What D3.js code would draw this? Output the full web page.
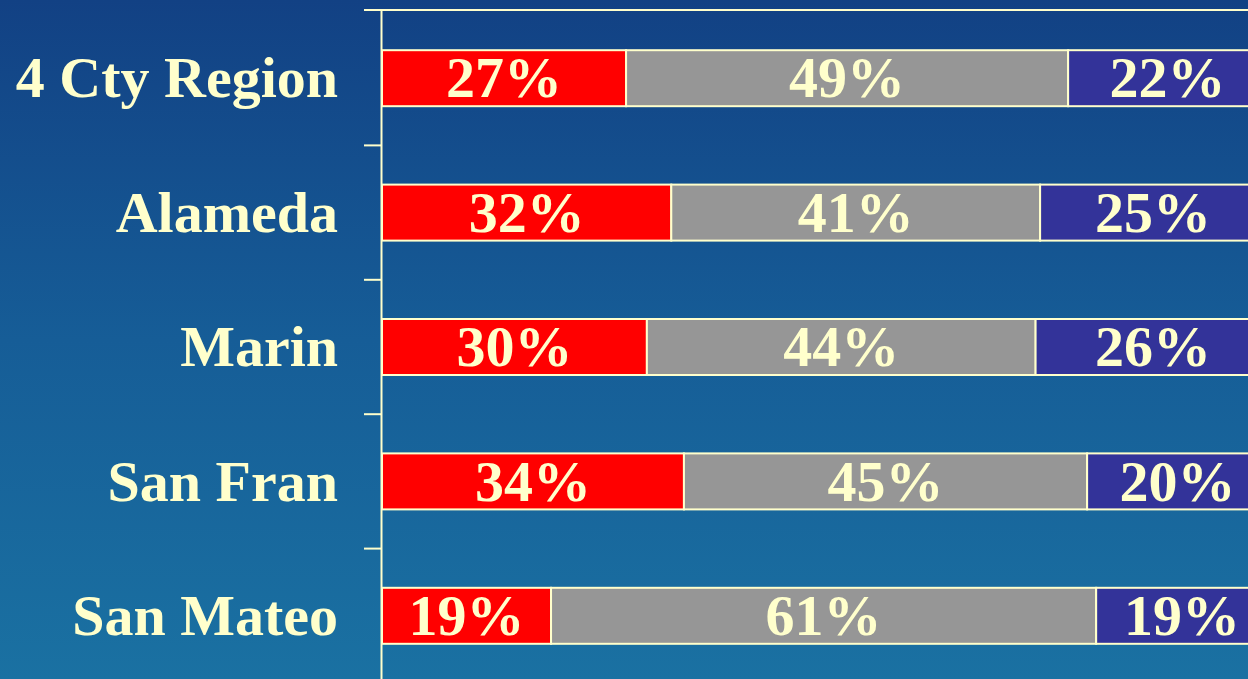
<!DOCTYPE html>
<html>
<head>
<meta charset="utf-8">
<script src="https://cdn.jsdelivr.net/npm/d3@7.9.0/dist/d3.min.js"></script>
<style>
  html, body { margin: 0; padding: 0; overflow: hidden; background: #13427f; }
  svg { display: block; }
</style>
</head>
<body>
<svg id="chart" width="1248" height="679"></svg>
<script>
const regions = ["4 Cty Region", "Alameda", "Marin", "San Fran", "San Mateo"];
const redShare = [27.0, 32.0, 29.3, 33.4, 18.7];
const grayShare = [48.9, 40.8, 43.0, 44.6, 60.3];
const blueShare = [22, 25, 26, 20, 19];
const redLabels = ["27%", "32%", "30%", "34%", "19%"];
const grayLabels = ["49%", "41%", "44%", "45%", "61%"];
const blueLabels = ["22%", "25%", "26%", "20%", "19%"];

const seriesColors = ["#ff0000", "#969696", "#333399"];
const cream = "#ffffcc";

const width = 1248, height = 679;
const svg = d3.select("#chart");

// background gradient
const defs = svg.append("defs");
const grad = defs.append("linearGradient")
  .attr("id", "bg").attr("x1", 0).attr("y1", 0).attr("x2", 0).attr("y2", 1);
grad.append("stop").attr("offset", "0%").attr("stop-color", "#124184");
grad.append("stop").attr("offset", "50%").attr("stop-color", "#165d97");
grad.append("stop").attr("offset", "100%").attr("stop-color", "#1a71a2");
svg.append("rect").attr("width", width).attr("height", height).attr("fill", "url(#bg)");

const x = d3.scaleLinear().domain([0, 100]).range([382, 1286]);
const y = d3.scaleBand().domain(regions).range([11, 683]).padding(0);
const barH = 56;

const rows = regions.map((r, i) => {
  const vals = [redShare[i], grayShare[i], blueShare[i]];
  const labs = [redLabels[i], grayLabels[i], blueLabels[i]];
  let acc = 0;
  return vals.map((v, k) => {
    const seg = { region: r, k, x0: acc, x1: acc + v, label: labs[k] };
    acc += v;
    return seg;
  });
}).flat();

const font = "'Liberation Serif', 'Times New Roman', serif";

const g = svg.append("g");
g.selectAll("rect.seg")
  .data(rows)
  .join("rect")
  .attr("class", "seg")
  .attr("x", d => x(d.x0))
  .attr("width", d => x(d.x1) - x(d.x0))
  .attr("y", d => y(d.region) + (y.bandwidth() - barH) / 2)
  .attr("height", barH)
  .attr("fill", d => seriesColors[d.k])
  .attr("stroke", cream)
  .attr("stroke-width", 2);

g.selectAll("text.val")
  .data(rows)
  .join("text")
  .attr("class", "val")
  .attr("x", d => (x(d.x0) + x(d.x1)) / 2)
  .attr("y", d => y(d.region) + y.bandwidth() / 2)
  .attr("dy", "0.33em")
  .attr("text-anchor", "middle")
  .attr("fill", cream)
  .style("font-family", font)
  .style("font-weight", "bold")
  .style("font-size", "58px")
  .text(d => d.label);

// axis: vertical line, top frame line, ticks between categories
svg.append("line")
  .attr("x1", 381.5).attr("x2", 381.5)
  .attr("y1", 10).attr("y2", height)
  .attr("stroke", cream).attr("stroke-width", 2);
svg.append("line")
  .attr("x1", 364).attr("x2", width)
  .attr("y1", 10).attr("y2", 10)
  .attr("stroke", cream).attr("stroke-width", 2);
svg.selectAll("line.tick")
  .data(regions.slice(1))
  .join("line")
  .attr("class", "tick")
  .attr("x1", 364).attr("x2", 381.5)
  .attr("y1", d => y(d)).attr("y2", d => y(d))
  .attr("stroke", cream).attr("stroke-width", 2);

svg.selectAll("text.cat")
  .data(regions)
  .join("text")
  .attr("class", "cat")
  .attr("x", 338)
  .attr("y", d => y(d) + y.bandwidth() / 2)
  .attr("dy", "0.33em")
  .attr("text-anchor", "end")
  .attr("fill", cream)
  .style("font-family", font)
  .style("font-weight", "bold")
  .style("font-size", "58px")
  .text(d => d);
</script>
</body>
</html>
